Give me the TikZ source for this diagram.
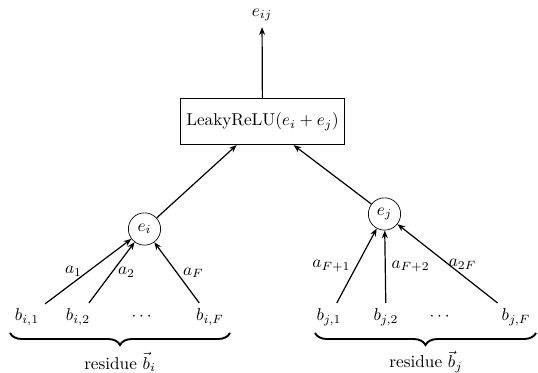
\documentclass[tikz,border=0pt]{standalone}
\usepackage{amsmath}
\usepackage{tikz}
\usetikzlibrary{arrows.meta,positioning,calc,decorations.pathreplacing}

\begin{document}
\begin{tikzpicture}[
  x=0.02045cm, y=-0.02045cm,
  >={Stealth[length=4.5pt,width=3.5pt]},
  layer/.style={rectangle,draw,minimum height=0.95cm,align=center},
  att/.style={circle,draw,minimum size=0.66cm,inner sep=0pt},
  feat/.style={anchor=base},
  edge/.style={->,line width=0.7pt},
  brc/.style={decorate,decoration={brace,mirror,amplitude=7pt},line width=1.1pt},
]
\useasboundingbox (0,0) rectangle (538,373);

\node (eij) at (262,15) {$e_{ij}$};
\node[layer] (relu) at (262.5,121.5) {LeakyReLU$(e_i+e_j)$};
\node[att] (ei) at (144.5,229) {$e_i$};
\node[att] (ej) at (384.5,214) {$e_j$};

% features of residue i
\node[feat] (bi1) at (27,321) {$b_{i,1}$};
\node[feat] (bi2) at (78,321) {$b_{i,2}$};
\node[feat] (dotsi) at (143,321) {$\cdots$};
\node[feat] (biF) at (210,321) {$b_{i,F}$};

% features of residue j
\node[feat] (bj1) at (329,321) {$b_{j,1}$};
\node[feat] (bj2) at (386,321) {$b_{j,2}$};
\node[feat] (dotsj) at (441,321) {$\cdots$};
\node[feat] (bjF) at (516,321) {$b_{j,F}$};

\draw[edge] (relu) -- (eij);
\draw[edge] (ei) -- (relu);
\draw[edge] (ej) -- (relu);

\draw[edge] (bi1) -- node[left] {$a_1$} (ei);
\draw[edge] (bi2) -- node[right] {$a_2$} (ei);
\draw[edge] (biF) -- node[right] {$a_F$} (ei);
\draw[edge] (bj1) -- node[left] {$a_{F+1}$} (ej);
\draw[edge] (bj2) -- node[right] {$a_{F+2}$} (ej);
\draw[edge] (bjF) -- node[pos=0.35,above] {$a_{2F}$} (ej);

% residue braces
\draw[brc] (10,333) -- (230,333);
\draw[brc] (315,333) -- (536,333);
\node (resi) at (120,362) {residue $\vec{b}_i$};
\node (resj) at (426,362) {residue $\vec{b}_j$};

\end{tikzpicture}
\end{document}
